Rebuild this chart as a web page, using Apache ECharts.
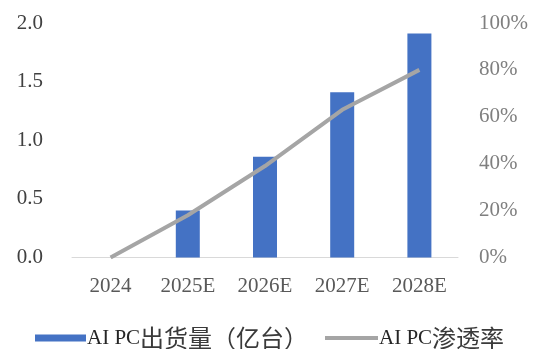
<!DOCTYPE html>
<html>
<head>
<meta charset="utf-8">
<script src="https://cdn.jsdelivr.net/npm/echarts@6/dist/echarts.min.js"></script>
<style>
  html, body { margin: 0; padding: 0; background: #fff; }
  #chart { width: 536px; height: 349px; }
</style>
</head>
<body>
<div id="chart"></div>
<script>
// AI PC shipments (hundred-million units) and penetration rate
const years = ['2024', '2025E', '2026E', '2027E', '2028E'];
const shipments = [0, 0.40, 0.86, 1.41, 1.91];
const penetration = [0, 0.18, 0.39, 0.63, 0.80];
const shipmentTicks = { min: 0, max: 2, interval: 0.5 };
const rateTicks = { min: 0, max: 1, interval: 0.2 };
const shipmentName = 'AI PC出货量（亿台）';
const rateName = 'AI PC渗透率';

const LATIN = '"Liberation Serif", "Times New Roman", serif';
const FONT = '"Liberation Serif", "Times New Roman", "Noto Sans CJK SC", serif';

// Legend label: Latin prefix in serif, Chinese part a little larger
function legendLabel(name) {
  const m = name.match(/^([A-Za-z ]+)(.*)$/);
  return '{a|' + m[1] + '}{b|' + m[2] + '}';
}
const legendText = {
  color: '#262626',
  padding: [0, 0, 0, -4],
  rich: {
    a: { fontFamily: LATIN, fontSize: 21, color: '#262626' },
    b: { fontFamily: '"Noto Sans CJK SC", sans-serif', fontSize: 24, color: '#3a3a3a' }
  }
};

const chart = echarts.init(document.getElementById('chart'), null, { renderer: 'canvas' });
chart.setOption({
  animation: false,
  textStyle: { fontFamily: FONT },
  grid: { left: 72, right: 78, top: 23, bottom: 91.5, containLabel: false },
  legend: [
    {
      left: 30,
      top: 321,
      itemWidth: 51,
      itemHeight: 7,
      formatter: legendLabel,
      textStyle: legendText,
      data: [{ name: shipmentName, icon: 'rect' }]
    },
    {
      left: 320,
      top: 321,
      itemWidth: 53,
      itemHeight: 4,
      formatter: legendLabel,
      textStyle: legendText,
      data: [{ name: rateName, icon: 'rect' }]
    }
  ],
  xAxis: {
    type: 'category',
    data: years,
    axisLine: { show: true, lineStyle: { color: '#d9d9d9', width: 1 } },
    axisTick: { show: false },
    axisLabel: { color: '#595959', fontSize: 21, fontFamily: FONT, margin: 18 }
  },
  yAxis: [
    {
      type: 'value',
      min: shipmentTicks.min, max: shipmentTicks.max, interval: shipmentTicks.interval,
      splitLine: { show: false },
      axisLine: { show: false },
      axisTick: { show: false },
      axisLabel: {
        color: '#404040', fontSize: 21, fontFamily: FONT, margin: 29,
        formatter: v => v.toFixed(1)
      }
    },
    {
      type: 'value',
      min: rateTicks.min, max: rateTicks.max, interval: rateTicks.interval,
      splitLine: { show: false },
      axisLine: { show: false },
      axisTick: { show: false },
      axisLabel: {
        color: '#7f7f7f', fontSize: 21, fontFamily: FONT, margin: 21,
        formatter: v => Math.round(v * 100) + '%'
      }
    }
  ],
  series: [
    {
      name: shipmentName,
      type: 'bar',
      data: shipments,
      barWidth: 24,
      itemStyle: { color: '#4472C4' }
    },
    {
      name: rateName,
      type: 'line',
      yAxisIndex: 1,
      data: penetration,
      symbol: 'none',
      lineStyle: { color: '#A5A5A5', width: 4 },
      itemStyle: { color: '#A5A5A5' }
    }
  ]
});
</script>
</body>
</html>
